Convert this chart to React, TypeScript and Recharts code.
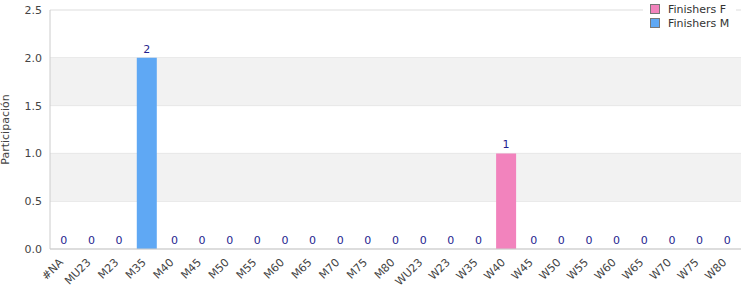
import React from "react";
import {
  ComposedChart,
  Bar,
  Line,
  XAxis,
  YAxis,
  CartesianGrid,
  ReferenceArea,
  LabelList,
} from "recharts";

const categories = [
  "#NA", "MU23", "M23", "M35", "M40", "M45", "M50", "M55", "M60", "M65",
  "M70", "M75", "M80", "WU23", "W23", "W35", "W40", "W45", "W50", "W55",
  "W60", "W65", "W70", "W75", "W80",
];
const finishersF = [
  0, 0, 0, 0, 0, 0, 0, 0, 0, 0, 0, 0, 0, 0, 0, 0, 1, 0, 0, 0, 0, 0, 0, 0, 0,
];
const finishersM = [
  0, 0, 0, 2, 0, 0, 0, 0, 0, 0, 0, 0, 0, 0, 0, 0, 0, 0, 0, 0, 0, 0, 0, 0, 0,
];
const yTicks = [0, 0.5, 1, 1.5, 2, 2.5];
const bands: [number, number][] = [
  [0.5, 1],
  [1.5, 2],
];

const COLORS = { F: "#f283bd", M: "#5fa8f4" };
const FONT = "'DejaVu Sans', sans-serif";

const data = categories.map((name, i) => ({
  name,
  F: finishersF[i],
  M: finishersM[i],
  total: finishersF[i] + finishersM[i],
}));

const XTick = (props: any) => {
  const { x, y, payload } = props;
  return (
    <text
      x={x}
      y={y + 6}
      textAnchor="end"
      transform={`rotate(-45, ${x}, ${y + 6})`}
      fontSize={11}
      fontFamily={FONT}
      fill="#444"
    >
      {payload.value}
    </text>
  );
};

const YLabel = (props: any) => {
  const { viewBox } = props;
  const cy = viewBox.y + viewBox.height / 2;
  return (
    <text
      x={9}
      y={cy}
      textAnchor="middle"
      transform={`rotate(-90, 9, ${cy})`}
      fontSize={11}
      fontFamily={FONT}
      fill="#444"
    >
      Participación
    </text>
  );
};

const LegendBox = () => {
  const items = [
    { label: "Finishers F", color: COLORS.F },
    { label: "Finishers M", color: COLORS.M },
  ];
  return (
    <div
      style={{
        position: "absolute",
        left: 643,
        top: 0,
        width: 86,
        background: "#fff",
        padding: "2px 0 4px 7px",
        fontFamily: FONT,
        fontSize: 11,
        color: "#333",
      }}
    >
      {items.map((it) => (
        <div
          key={it.label}
          style={{ display: "flex", alignItems: "center", height: 14 }}
        >
          <span
            style={{
              width: 8,
              height: 8,
              background: it.color,
              border: "1px solid #777",
              marginRight: 8,
              display: "inline-block",
            }}
          />
          {it.label}
        </div>
      ))}
    </div>
  );
};

export default function App() {
  return (
    <div
      style={{
        position: "absolute",
        left: 0,
        top: 0,
        width: 750,
        height: 300,
        background: "#fff",
      }}
    >
      <ComposedChart
        width={750}
        height={300}
        data={data}
        margin={{ top: 10, right: 9, left: 0, bottom: 0 }}
        barCategoryGap="14%"
      >
        {bands.map(([a, b]) => (
          <ReferenceArea
            key={a}
            y1={a}
            y2={b}
            fill="#f2f2f2"
            fillOpacity={1}
            stroke="none"
          />
        ))}
        <CartesianGrid vertical={false} stroke="#dddddd" />
        <XAxis
          dataKey="name"
          interval={0}
          height={51}
          tickLine={false}
          axisLine={{ stroke: "#cccccc" }}
          tick={<XTick />}
        />
        <YAxis
          domain={[0, 2.5]}
          ticks={yTicks}
          width={50}
          tickLine={false}
          axisLine={{ stroke: "#cccccc" }}
          tickFormatter={(v: number) => v.toFixed(1)}
          tick={{ fontSize: 11, fontFamily: FONT, fill: "#444" }}
          label={<YLabel />}
        />
        <YAxis
          yAxisId="r"
          orientation="right"
          width={0}
          tick={false}
          tickLine={false}
          axisLine={{ stroke: "#dddddd" }}
        />
        <Bar
          dataKey="F"
          name="Finishers F"
          stackId="a"
          fill={COLORS.F}
          isAnimationActive={false}
        />
        <Bar
          dataKey="M"
          name="Finishers M"
          stackId="a"
          fill={COLORS.M}
          isAnimationActive={false}
        />
        <Line
          dataKey="total"
          stroke="none"
          dot={false}
          activeDot={false}
          legendType="none"
          isAnimationActive={false}
        >
          <LabelList
            dataKey="total"
            position="top"
            offset={5}
            fontSize={11}
            fontFamily={FONT}
            fill="#1f1f8f"
          />
        </Line>
      </ComposedChart>
      <LegendBox />
    </div>
  );
}
